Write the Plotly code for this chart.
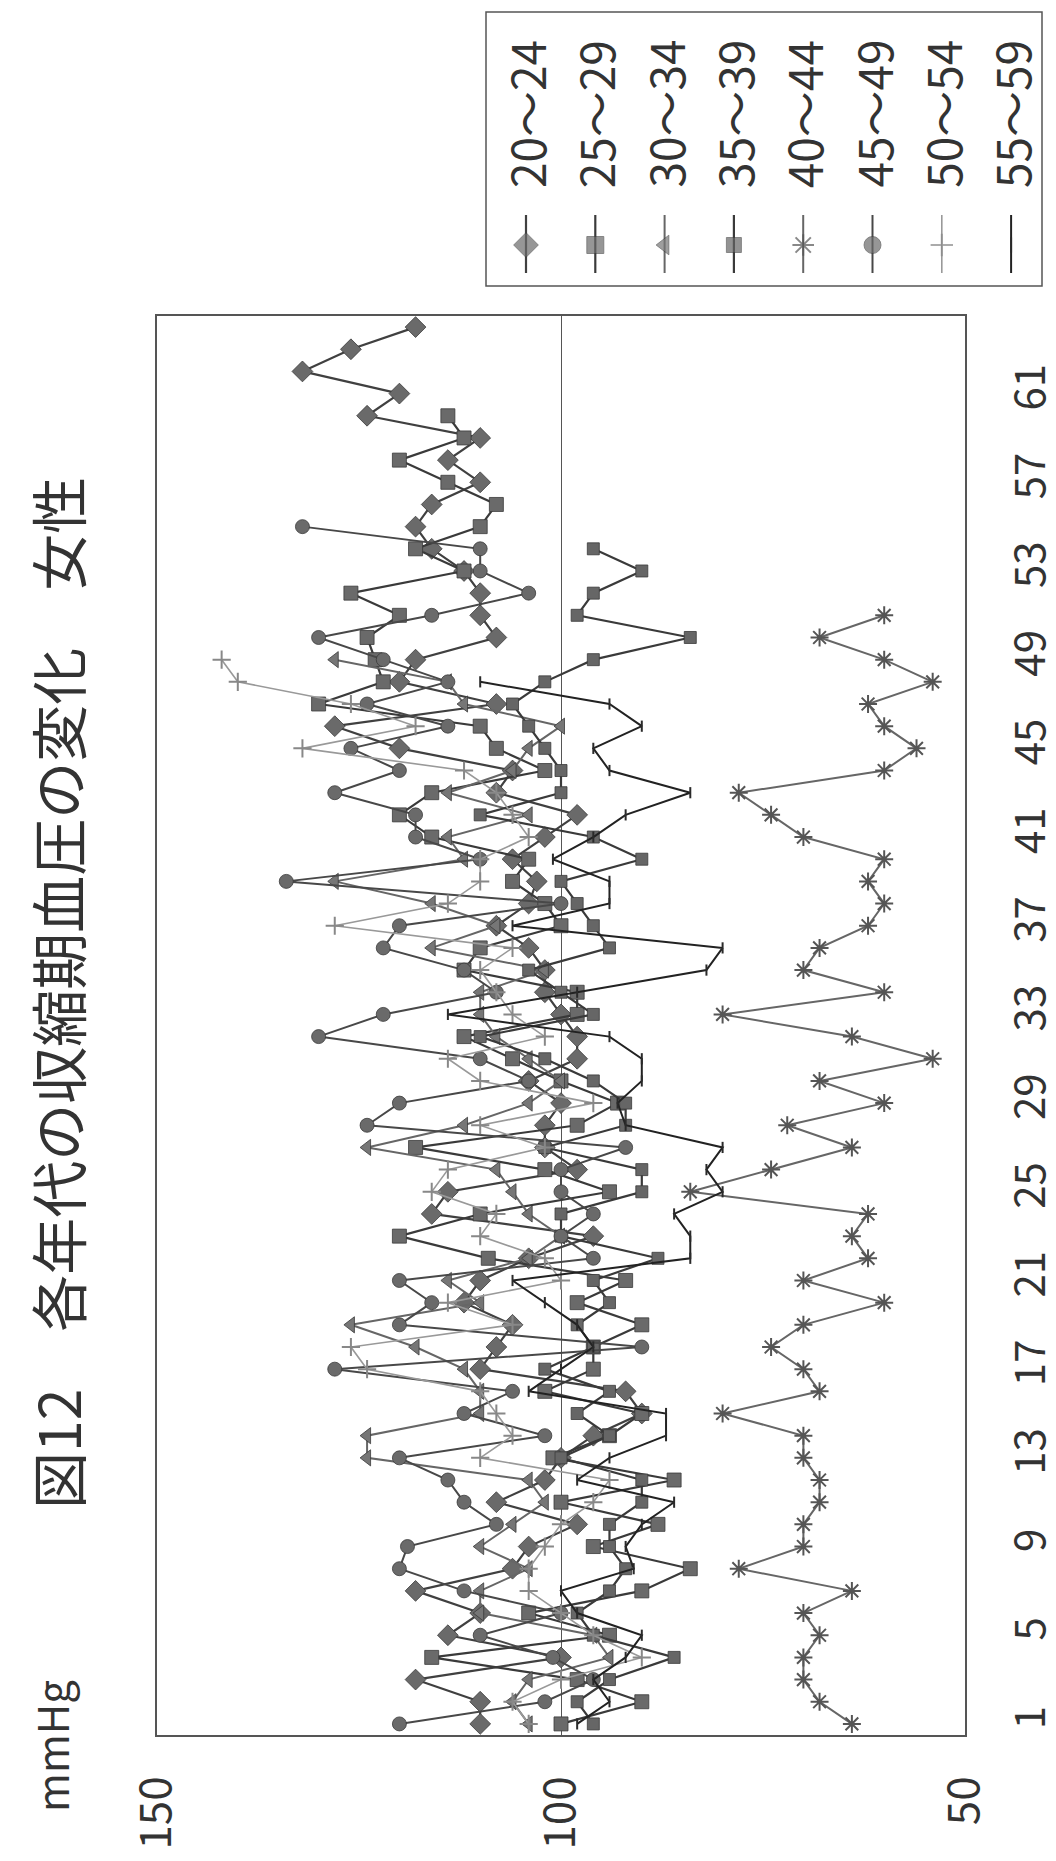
import plotly.graph_objects as go

# ---------------- data ----------------
series_names = ["20～24", "25～29", "30～34", "35～39", "40～44", "45～49", "50～54", "55～59"]

s20_24 = [110,110,118,100,114,110,118,106,104,98, 108,102,100,96,90,92,110,108,106,112,
          110,104,96,116,114,98,102,102,100,104, 98,98,100,102,102,104,108,104,103,106,
          102,98,108,106,120,128,108,120,118,108, 110,110,112,116,118,116,110,114,110,124,
          120,132,126,118]
s25_29 = [100,90,98,116,94,104,90,84,96,88, 100,86,101,94,90,102,96,96,90,98,92,
          109,120,110,94,102,118,98,93,100,106,112, 98,98,112,110,100,102,106,104,116,120,116,
          102,108,110,130,122,123,124,120,126,112,118, 110,108,114,120,112,114]
s30_34 = [104,106,104,94,96,110,110,104,110,106, 102,104,124,124,110,110,112,118,126,110,114,
          104,100,104,106,108,124,112,104,100,104,108, 110,110,102,116,108,116,128,112,114,104,114,
          106,104,100,112,114,128]
s35_39 = [96,98,94,86,96,98,94,92,94,94, 90,90,100,94,98,94,102,96,98,94,96,
          88,100,100,90,90,102,92,92,96,102,110, 96,100,104,94,96,98,100,90,96,110,100,
          100,102,104,106,102,96,84,98,96,90,96]
s40_44 = [64,68,70,70,68,70,64,78,70,70, 68,68,70,70,80,68,70,74,70,60,70,
          62,64,62,84,74,64,72,60,68,54,64, 80,60,70,68,62,60,62,60,70,74,78,
          60,56,60,62,54,60,68,60]
s45_49 = [120,102,96,101,110,100,112,120,119,108, 112,114,120,102,112,106,128,90,120,116,120,
          96,100,96,100,100,92,124,120,104,110,130, 122,108,112,122,120,100,134,110,118,118,128,
          120,126,114,124,114,122,130,116,104,110,110,132]
s50_54 = [104,106,100,90,96,100,104,104,102,100, 96,94,110,106,108,110,124,126,106,114,100,
          102,110,108,116,114,102,110,96,110,114,102, 106,108,110,106,128,114,110,110,104,106,108,
          112,132,118,126,140,142]
s55_59 = [98,94,96,92,90,98,100,91,92,90, 86,98,94,87,87,104,100,96,98,102,106,
          84,84,86,80,82,80,92,93,90,90,94, 114,98,82,80,106,94,94,101,96,92,84,
          94,96,90,94,110]

value_ticks = [150, 100, 50]
index_ticks = list(range(1, 62, 4))
n_categories = 64

title_text = "図12　各年代の収縮期血圧の変化　女性"
unit_text = "mmHg"

all_series = [s20_24, s25_29, s30_34, s35_39, s40_44, s45_49, s50_54, s55_59]

# ---------------- styling ----------------
W, H = 1056, 1861
X0, X1, Y0, Y1 = 149, 957, 308, 1727   # plot frame in pixels
FONT = "Noto Sans CJK JP, Liberation Sans, sans-serif"

styles = [
    dict(symbol="diamond", size=16, color="#6a6a6a", line="#404040", lw=2.2),
    dict(symbol="square", size=14, color="#6a6a6a", line="#3a3a3a", lw=2.2),
    dict(symbol="triangle-left", size=14, color="#767676", line="#666666", lw=2.0),
    dict(symbol="square", size=12, color="#666666", line="#3a3a3a", lw=2.2),
    dict(symbol="asterisk-open", size=15, color="#555555", line="#666666", lw=2.0),
    dict(symbol="circle", size=14, color="#6a6a6a", line="#484848", lw=2.0),
    dict(symbol="cross-thin-open", size=13, color="#888888", line="#999999", lw=1.6),
    dict(symbol="line-ns-open", size=8, color="#2a2a2a", line="#222222", lw=2.0),
]

fig = go.Figure()

for name, vals, st in zip(series_names, all_series, styles):
    idx = list(range(1, len(vals) + 1))
    open_sym = st["symbol"].endswith("open")
    fig.add_trace(go.Scatter(
        x=vals, y=idx, mode="lines+markers", name=name,
        line=dict(color=st["line"], width=st["lw"]),
        marker=dict(symbol=st["symbol"], size=st["size"], color=st["color"],
                    line=dict(color=st["color"] if open_sym else "#3a3a3a",
                              width=2 if open_sym else 0.8)),
        showlegend=False, xaxis="x", yaxis="y",
    ))

# ---------------- hand-built rotated legend ----------------
LX0, LX1, LY0, LY1 = 478, 1034, 4, 278
col_x = [518 + i * 69.3 for i in range(8)]
for name, st, cx in zip(series_names, styles, col_x):
    open_sym = st["symbol"].endswith("open")
    fig.add_trace(go.Scatter(
        x=[cx, cx, cx], y=[207, 237, 265], mode="lines+markers",
        line=dict(color=st["line"], width=st["lw"]),
        marker=dict(symbol=st["symbol"], size=[0, st["size"] + 3, 0], color=st["color"],
                    line=dict(color=st["color"] if open_sym else "#3a3a3a",
                              width=2 if open_sym else 0.8)),
        showlegend=False, xaxis="x2", yaxis="y2", hoverinfo="skip",
    ))

annotations = []
for name, cx in zip(series_names, col_x):
    annotations.append(dict(
        x=cx, y=106, xref="x2", yref="y2", text=name, textangle=-90,
        showarrow=False, font=dict(family=FONT, size=46, color="#333333"),
        xanchor="center", yanchor="middle"))

annotations.append(dict(
    x=48, y=985, xref="x2", yref="y2", text=title_text, textangle=-90,
    showarrow=False, font=dict(family=FONT, size=57, color="#333333"),
    xanchor="center", yanchor="middle"))
annotations.append(dict(
    x=42, y=1738, xref="x2", yref="y2", text=unit_text, textangle=-90,
    showarrow=False, font=dict(family=FONT, size=42, color="#333333"),
    xanchor="center", yanchor="middle"))

shapes = [dict(type="rect", xref="x2", yref="y2", x0=LX0, x1=LX1, y0=LY0, y1=LY1,
               line=dict(color="#555555", width=1.5), fillcolor="rgba(0,0,0,0)")]

fig.update_layout(
    template="none",
    width=W, height=H, autosize=False,
    margin=dict(l=0, r=0, t=0, b=0, pad=0, autoexpand=False),
    paper_bgcolor="white", plot_bgcolor="rgba(0,0,0,0)",
    showlegend=False,
    annotations=annotations, shapes=shapes,
    xaxis=dict(
        domain=[X0 / W, X1 / W], range=[150, 50], anchor="y", automargin=False,
        tickmode="array", tickvals=value_ticks, ticktext=[str(v) for v in value_ticks],
        tickangle=-90, tickfont=dict(family=FONT, size=44, color="#333333"),
        showgrid=True, gridcolor="#555555", gridwidth=1,
        showline=True, linecolor="#555555", linewidth=1.5, mirror=True,
        ticks="", zeroline=False, ticklabelstandoff=22,
    ),
    yaxis=dict(
        domain=[1 - Y1 / H, 1 - Y0 / H], range=[0.5, n_categories + 0.5], anchor="x",
        side="right", automargin=False,
        tickmode="array", tickvals=index_ticks, ticktext=[str(v) for v in index_ticks],
        tickangle=-90, tickfont=dict(family=FONT, size=42, color="#333333"),
        showgrid=False, showline=True, linecolor="#555555", linewidth=1.5, mirror=True,
        ticks="", zeroline=False, ticklabelstandoff=28,
    ),
    xaxis2=dict(domain=[0, 1], range=[0, W], anchor="y2", visible=False,
                fixedrange=True, automargin=False),
    yaxis2=dict(domain=[0, 1], range=[H, 0], anchor="x2", visible=False,
                fixedrange=True, automargin=False),
)

fig.write_html("out.html")
